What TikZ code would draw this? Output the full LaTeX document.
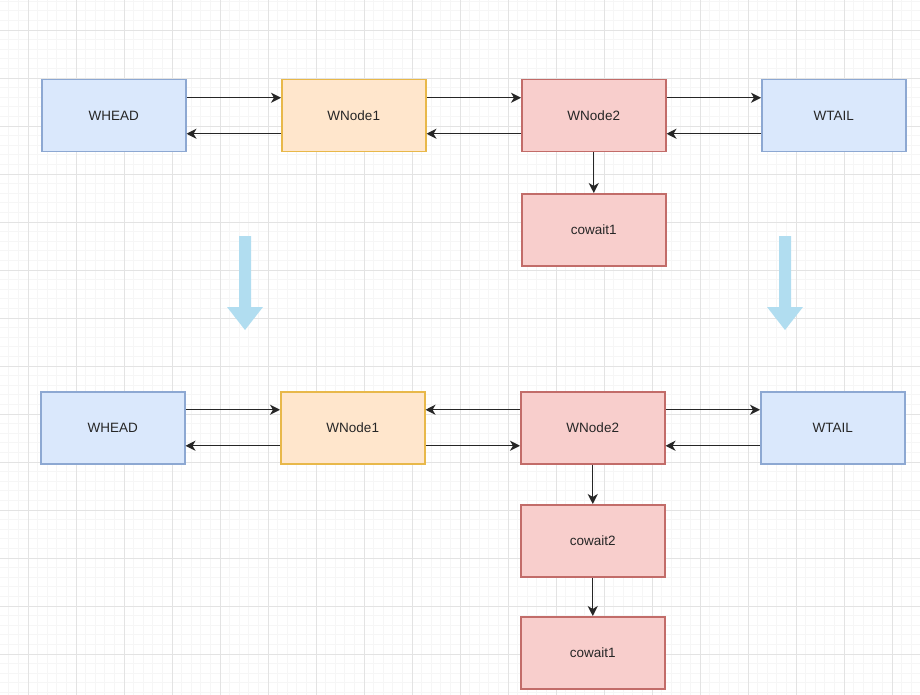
\documentclass[tikz,border=0pt]{standalone}
\usepackage{fontspec}
\setmainfont{Liberation Sans}
\usetikzlibrary{arrows.meta}
\definecolor{bfill}{HTML}{DAE8FC}\definecolor{bdraw}{HTML}{8DA8D2}
\definecolor{ofill}{HTML}{FFE6CC}\definecolor{odraw}{HTML}{E8B84A}
\definecolor{rfill}{HTML}{F8CECC}\definecolor{rdraw}{HTML}{C26C69}
\definecolor{bigarrow}{HTML}{B1DDF0}
\definecolor{gminor}{HTML}{F6F6F6}\definecolor{gmajor}{HTML}{E3E3E3}
\tikzset{
  box/.style={draw, line width=1.5pt, minimum width=144pt, minimum height=72pt, inner sep=0pt, anchor=north west, font=\fontsize{13.5}{16}\selectfont, text=black!85},
  bluebox/.style={box, fill=bfill, draw=bdraw},
  orangebox/.style={box, fill=ofill, draw=odraw},
  redbox/.style={box, fill=rfill, draw=rdraw},
  conn/.style={-{Stealth[length=10pt,width=10pt,inset=3pt]}, line width=1.3pt, black!85},
  fat/.style={fill=bigarrow, draw=none}
}
\begin{document}
\begin{tikzpicture}[x=1pt,y=-1pt]
\useasboundingbox (0,0) rectangle (920,695);
\fill[white] (0,0) rectangle (920,695);
% grid
\foreach \i in {-3,...,92} {
  \pgfmathsetmacro\xx{28+9.6*\i}
  \ifdim\xx pt>0pt \ifdim\xx pt<920pt \draw[gminor, line width=0.8pt] (\xx,0) -- (\xx,695); \fi\fi
}
\foreach \i in {-4,...,70} {
  \pgfmathsetmacro\yy{30+9.6*\i}
  \ifdim\yy pt>0pt \ifdim\yy pt<695pt \draw[gminor, line width=0.8pt] (0,\yy) -- (920,\yy); \fi\fi
}
\foreach \i in {0,...,19} { \draw[gmajor, line width=0.9pt] (28+48*\i,0) -- (28+48*\i,695); }
\foreach \i in {0,...,14} { \draw[gmajor, line width=0.9pt] (0,30+48*\i) -- (920,30+48*\i); }

% top row
\node[bluebox] (h1) at (41,79) {WHEAD};
\node[orangebox] (n11) at (281,79) {WNode1};
\node[redbox] (n21) at (521,79) {WNode2};
\node[bluebox] (t1) at (761,79) {WTAIL};
\node[redbox] (c11) at (521,193) {cowait1};

\draw[conn] ([yshift=18pt]h1.east) -- ([yshift=18pt]n11.west);
\draw[conn] ([yshift=-18pt]n11.west) -- ([yshift=-18pt]h1.east);
\draw[conn] ([yshift=18pt]n11.east) -- ([yshift=18pt]n21.west);
\draw[conn] ([yshift=-18pt]n21.west) -- ([yshift=-18pt]n11.east);
\draw[conn] ([yshift=18pt]n21.east) -- ([yshift=18pt]t1.west);
\draw[conn] ([yshift=-18pt]t1.west) -- ([yshift=-18pt]n21.east);
\draw[conn] (n21.south) -- (c11.north);

% big arrows
\fill[fat] (239,236) -- (251,236) -- (251,307) -- (263,307) -- (245,330) -- (227,307) -- (239,307) -- cycle;
\fill[fat] (779,236) -- (791,236) -- (791,307) -- (803,307) -- (785,330) -- (767,307) -- (779,307) -- cycle;

% bottom row
\node[bluebox] (h2) at (40,391) {WHEAD};
\node[orangebox] (n12) at (280,391) {WNode1};
\node[redbox] (n22) at (520,391) {WNode2};
\node[bluebox] (t2) at (760,391) {WTAIL};
\node[redbox] (c22) at (520,504) {cowait2};
\node[redbox] (c12) at (520,616) {cowait1};

\draw[conn] ([yshift=18pt]h2.east) -- ([yshift=18pt]n12.west);
\draw[conn] ([yshift=-18pt]n12.west) -- ([yshift=-18pt]h2.east);
\draw[conn] ([yshift=18pt]n22.west) -- ([yshift=18pt]n12.east);
\draw[conn] ([yshift=-18pt]n12.east) -- ([yshift=-18pt]n22.west);
\draw[conn] ([yshift=18pt]n22.east) -- ([yshift=18pt]t2.west);
\draw[conn] ([yshift=-18pt]t2.west) -- ([yshift=-18pt]n22.east);
\draw[conn] (n22.south) -- (c22.north);
\draw[conn] (c22.south) -- (c12.north);
\end{tikzpicture}
\end{document}
